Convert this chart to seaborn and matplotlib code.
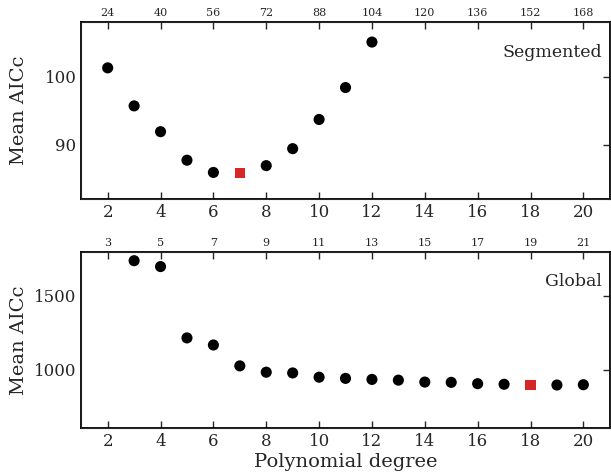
import numpy as np
import pandas as pd
import matplotlib
matplotlib.use("Agg")
import matplotlib.pyplot as plt
import seaborn as sns

# Segmented fit: mean AICc per polynomial degree
seg_degree = [2, 3, 4, 5, 6, 8, 9, 10, 11, 12]
seg_aicc = [101.3, 95.7, 91.9, 87.7, 85.9, 86.9, 89.4, 93.7, 98.4, 105.1]
seg_best_degree = [7]
seg_best_aicc = [85.8]

# Global fit: mean AICc per polynomial degree
glob_degree = [3, 4, 5, 6, 7, 8, 9, 10, 11, 12, 13, 14, 15, 16, 17, 19, 20]
glob_aicc = [1740, 1700, 1215, 1167, 1025, 982, 977, 948, 940, 933, 928,
             915, 913, 904, 900, 895, 897]
glob_best_degree = [18]
glob_best_aicc = [895]

# top axis: number of parameters
top_ticks = [2, 4, 6, 8, 10, 12, 14, 16, 18, 20]
seg_params = [24, 40, 56, 72, 88, 104, 120, 136, 152, 168]
glob_params = [3, 5, 7, 9, 11, 13, 15, 17, 19, 21]

sns.set_style("white")
plt.rcParams['font.family'] = ['DejaVu Serif']
plt.rcParams['mathtext.fontset'] = 'dejavuserif'

fig, axes = plt.subplots(2, 1, figsize=(6.11, 4.76), dpi=100)
fig.subplots_adjust(left=0.133, right=0.998, top=0.953, bottom=0.1, hspace=0.3)

panels = [
    (axes[0], seg_degree, seg_aicc, seg_best_degree, seg_best_aicc,
     seg_params, "Segmented", (82, 108), [90, 100]),
    (axes[1], glob_degree, glob_aicc, glob_best_degree, glob_best_aicc,
     glob_params, "Global", (600, 1800), [1000, 1500]),
]

for ax, deg, aicc, bdeg, baicc, params, name, ylim, yt in panels:
    df = pd.DataFrame({"degree": deg, "aicc": aicc})
    best = pd.DataFrame({"degree": bdeg, "aicc": baicc})
    sns.scatterplot(data=df, x="degree", y="aicc", ax=ax, color="black",
                    s=64, edgecolor="none")
    sns.scatterplot(data=best, x="degree", y="aicc", ax=ax, color="#d62728",
                    marker="s", s=52, edgecolor="none")
    ax.set_xlim(1, 21)
    ax.set_ylim(*ylim)
    ax.set_xticks(top_ticks)
    ax.set_yticks(yt)
    ax.set_xlabel("")
    ax.set_ylabel("Mean AICc", fontsize=14)
    ax.tick_params(direction="in", length=5, width=1, labelsize=12,
                   top=True, right=True)
    for sp in ax.spines.values():
        sp.set_linewidth(1.3)
        sp.set_color("black")
    ax.text(0.985, 0.83, name, transform=ax.transAxes, ha="right",
            va="center", fontsize=12.5)

    top = ax.twiny()
    top.set_xlim(ax.get_xlim())
    top.set_xticks(top_ticks)
    top.set_xticklabels([str(p) for p in params])
    top.tick_params(direction="in", length=5, width=1, labelsize=8, pad=3)

axes[0].yaxis.set_label_coords(-0.1, 0.5)
axes[1].yaxis.set_label_coords(-0.1, 0.5)
axes[1].set_xlabel("Polynomial degree", fontsize=14, labelpad=2)

fig.savefig("out.png", dpi=100)
